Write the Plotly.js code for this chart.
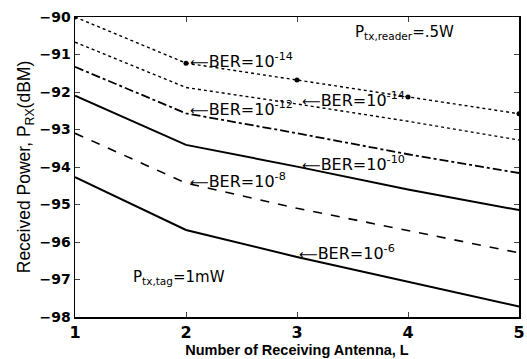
<!DOCTYPE html>
<html>
<head>
<meta charset="utf-8">
<script src="https://cdn.plot.ly/plotly-3.0.1.min.js"></script>
<style>
  html, body { margin: 0; padding: 0; background: #fff; }
  #chart { width: 527px; height: 359px; }
</style>
</head>
<body>
<div id="chart"></div>
<script>
// Number of receiving antennas
const antennas = [1, 2, 3, 4, 5];

// Received power (dBm) for each BER target
const ber14Marked = [-90.0, -91.23, -91.68, -92.13, -92.58];
const ber12 = [-90.67, -91.88, -92.32, -92.78, -93.28];
const ber10 = [-91.33, -92.57, -93.1, -93.66, -94.16];
const ber10Solid = [-92.1, -93.41, -93.99, -94.6, -95.15];
const ber8 = [-93.1, -94.43, -95.1, -95.7, -96.29];
const ber6 = [-94.27, -95.68, -96.4, -97.06, -97.72];

// Arrow labels: tip position and exponent
const labelX = [2.02, 2.02, 3.03, 3.03, 2.02, 3.0];
const labelY = [-91.15, -92.45, -92.2, -93.9, -94.36, -96.27];
const labelExp = ['-14', '-12', '-14', '-10', '-8', '-6'];

const sans = 'Arial, "Liberation Sans", sans-serif';
const wide = '"DejaVu Sans", Verdana, sans-serif';

const line = (y, dash, width, extra) => Object.assign({
  x: antennas, y: y, type: 'scatter', mode: 'lines',
  line: { color: '#000', dash: dash, width: width },
  hoverinfo: 'skip', showlegend: false
}, extra || {});

const traces = [
  line(ber14Marked, 'dot', 1.4, { mode: 'lines+markers', marker: { color: '#000', size: 5 } }),
  line(ber12, 'dot', 1.4),
  line(ber10, 'dashdot', 1.8),
  line(ber10Solid, 'solid', 2),
  line(ber8, 'dash', 1.6),
  line(ber6, 'solid', 2)
];

// long left arrow in front of each label
const arrow = '<span style="font-size:13px">\u27F5</span>';

const annotations = labelX.map((x, i) => ({
  x: x, y: labelY[i], xref: 'x', yref: 'y',
  text: arrow + 'BER=10<sup>' + labelExp[i] + '</sup>',
  showarrow: false, xanchor: 'left', yanchor: 'middle',
  font: { family: wide, size: 16, color: '#000' }
}));

annotations.push({
  x: 3.5, y: -90.4, xref: 'x', yref: 'y',
  text: 'P<sub>tx,reader</sub>=.5W',
  showarrow: false, xanchor: 'left', yanchor: 'middle',
  font: { family: wide, size: 15, color: '#000' }
});
annotations.push({
  x: 1.5, y: -96.95, xref: 'x', yref: 'y',
  text: 'P<sub>tx,tag</sub>=1mW',
  showarrow: false, xanchor: 'left', yanchor: 'middle',
  font: { family: wide, size: 15, color: '#000' }
});

const layout = {
  width: 527, height: 359,
  margin: { l: 75, r: 8, t: 17, b: 42 },
  paper_bgcolor: '#fff', plot_bgcolor: '#fff',
  showlegend: false,
  xaxis: {
    range: [1, 5], tickvals: antennas, ticks: 'inside', ticklen: 5,
    showline: true, mirror: 'ticks', linecolor: '#000', linewidth: 1.5,
    showgrid: false, zeroline: false,
    tickfont: { family: wide, size: 16, color: '#000', weight: 'bold' },
    title: { text: 'Number of Receiving Antenna, L', standoff: 1,
      font: { family: sans, size: 14.5, color: '#000', weight: 'bold' } }
  },
  yaxis: {
    range: [-98, -90], dtick: 1, ticks: 'inside', ticklen: 5,
    showline: true, mirror: 'ticks', linecolor: '#000', linewidth: 1.5,
    showgrid: false, zeroline: false,
    tickfont: { family: wide, size: 14, color: '#000', weight: 'bold' },
    title: { text: 'Received Power, P<sub>RX</sub>(dBM)', standoff: 4,
      font: { family: sans, size: 17.5, color: '#000' } }
  },
  annotations: annotations
};

Plotly.newPlot('chart', traces, layout, { staticPlot: true, displayModeBar: false });
</script>
</body>
</html>
